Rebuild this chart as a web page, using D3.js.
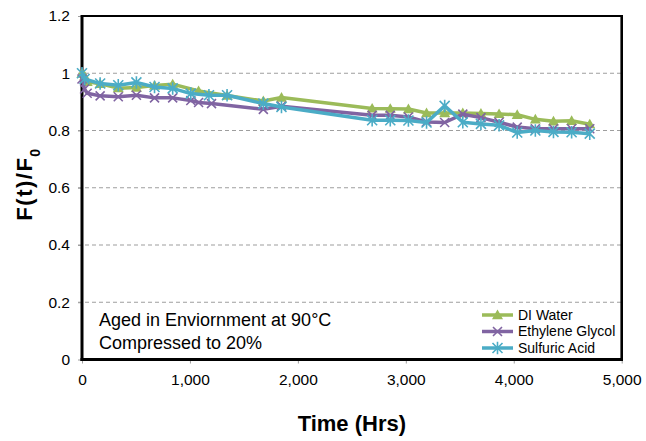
<!DOCTYPE html>
<html>
<head>
<meta charset="utf-8">
<script src="https://cdn.jsdelivr.net/npm/d3@7/dist/d3.min.js"></script>
<style>
  html, body { margin: 0; padding: 0; background: #fff; }
  svg { display: block; font-family: "Liberation Sans", Arial, sans-serif; }
</style>
</head>
<body>
<svg id="chart" width="646" height="441"></svg>
<script>
// ---- Data ----
const seriesNames = ["DI Water", "Ethylene Glycol", "Sulfuric Acid"];

const hoursDI = [0, 24, 48, 168, 336, 504, 672, 840, 1080, 1344, 1680, 1848,
  2688, 2856, 3024, 3192, 3360, 3528, 3696, 3864, 4032, 4200, 4368, 4536, 4704];
const valuesDI = [1.0, 0.99, 0.97, 0.963, 0.948, 0.95, 0.957, 0.962, 0.938, 0.922, 0.903, 0.915,
  0.877, 0.876, 0.875, 0.861, 0.861, 0.861, 0.859, 0.858, 0.855, 0.839, 0.832, 0.834, 0.822];

const hoursEG = [0, 24, 48, 168, 336, 504, 672, 840, 1008, 1080, 1200, 1680, 1848,
  2688, 2856, 3024, 3192, 3360, 3528, 3696, 3864, 4032, 4200, 4368, 4536, 4704];
const valuesEG = [0.98, 0.945, 0.93, 0.921, 0.918, 0.923, 0.914, 0.914, 0.905, 0.898, 0.894, 0.874, 0.885,
  0.853, 0.853, 0.847, 0.83, 0.828, 0.857, 0.845, 0.829, 0.812, 0.806, 0.806, 0.806, 0.806];

const hoursSA = [0, 24, 168, 336, 504, 672, 840, 1008, 1176, 1344, 1680, 1848,
  2688, 2856, 3024, 3192, 3360, 3528, 3696, 3864, 4032, 4200, 4368, 4536, 4704];
const valuesSA = [1.0, 0.98, 0.964, 0.958, 0.968, 0.952, 0.947, 0.929, 0.923, 0.923, 0.894, 0.882,
  0.836, 0.836, 0.835, 0.828, 0.886, 0.829, 0.823, 0.818, 0.793, 0.8, 0.795, 0.794, 0.789];

const xTicks = [0, 1000, 2000, 3000, 4000, 5000];
const yTicks = [0, 0.2, 0.4, 0.6, 0.8, 1.0, 1.2];

const colors = ["#9BBB59", "#8064A2", "#4BACC6"];
const markers = ["triangle", "cross", "asterisk"];

// ---- Layout ----
const svg = d3.select("#chart");
const W = 646, H = 441;
const margin = { left: 82, top: 16, right: 24.3, bottom: 81.5 };
const iw = W - margin.left - margin.right;
const ih = H - margin.top - margin.bottom;

const x = d3.scaleLinear().domain([0, 5000]).range([margin.left, margin.left + iw]);
const y = d3.scaleLinear().domain([0, 1.2]).range([margin.top + ih, margin.top]);

// gridlines
svg.append("g")
  .selectAll("line")
  .data(yTicks.filter(t => t > 0 && t < 1.2))
  .join("line")
  .attr("x1", x(0) - 4).attr("x2", x(5000))
  .attr("y1", d => y(d)).attr("y2", d => y(d))
  .attr("stroke", "#9e9e9e").attr("stroke-width", 1.2)
  .attr("stroke-dasharray", "4,3");

// axes
const xAxis = d3.axisBottom(x).tickValues(xTicks).tickSize(4).tickPadding(10)
  .tickFormat(d3.format(","));
const yAxis = d3.axisLeft(y).tickValues(yTicks).tickSize(4).tickPadding(8)
  .tickFormat(d => d === 0 ? "0" : d3.format("")(+d.toFixed(1)));

const gx = svg.append("g").attr("transform", `translate(0,${y(0)})`).call(xAxis);
const gy = svg.append("g").attr("transform", `translate(${x(0)},0)`).call(yAxis);
[gx, gy].forEach(g => {
  g.select(".domain").remove();
  g.selectAll(".tick line").attr("stroke", "#9e9e9e").attr("stroke-width", 1);
  g.selectAll(".tick text").attr("fill", "#000").style("font-size", "15.5px")
    .style("font-family", "'Liberation Sans', Arial, sans-serif");
});

// frame
svg.append("line").attr("x1", x(0)).attr("x2", x(5000)).attr("y1", y(1.2)).attr("y2", y(1.2))
  .attr("stroke", "#000").attr("stroke-width", 2);
svg.append("line").attr("x1", x(5000)).attr("x2", x(5000)).attr("y1", y(1.2) - 1).attr("y2", y(0) + 1.5)
  .attr("stroke", "#000").attr("stroke-width", 2.6);
svg.append("line").attr("x1", x(0) - 1.5).attr("x2", x(5000) + 1.3).attr("y1", y(0)).attr("y2", y(0))
  .attr("stroke", "#000").attr("stroke-width", 3);
svg.append("line").attr("x1", x(0)).attr("x2", x(0)).attr("y1", y(1.2) - 1).attr("y2", y(0) + 1.5)
  .attr("stroke", "#000").attr("stroke-width", 3);

// markers
function drawMarker(g, type, cx, cy, color) {
  if (type === "triangle") {
    const s = 5.5;
    g.append("path")
      .attr("d", `M${cx},${cy - s} L${cx + s},${cy + s * 0.75} L${cx - s},${cy + s * 0.75} Z`)
      .attr("fill", color);
  } else if (type === "cross") {
    const s = 4.5;
    g.append("path")
      .attr("d", `M${cx - s},${cy - s} L${cx + s},${cy + s} M${cx - s},${cy + s} L${cx + s},${cy - s}`)
      .attr("stroke", color).attr("stroke-width", 1.6).attr("fill", "none");
  } else {
    const s = 5;
    g.append("path")
      .attr("d", `M${cx - s},${cy - s} L${cx + s},${cy + s} M${cx - s},${cy + s} L${cx + s},${cy - s} M${cx},${cy - s * 1.25} L${cx},${cy + s * 1.25}`)
      .attr("stroke", color).attr("stroke-width", 1.6).attr("fill", "none");
  }
}

const seriesData = [
  { name: seriesNames[0], hours: hoursDI, values: valuesDI },
  { name: seriesNames[1], hours: hoursEG, values: valuesEG },
  { name: seriesNames[2], hours: hoursSA, values: valuesSA }
];

const line = d3.line().x(d => x(d[0])).y(d => y(d[1]));

seriesData.forEach((s, i) => {
  const pts = s.hours.map((h, j) => [h, s.values[j]]);
  const g = svg.append("g");
  g.append("path").datum(pts).attr("d", line)
    .attr("fill", "none").attr("stroke", colors[i]).attr("stroke-width", 3.5)
    .attr("stroke-linejoin", "round");
  pts.forEach(p => drawMarker(g, markers[i], x(p[0]), y(p[1]), colors[i]));
});

// legend
const legend = svg.append("g");
seriesNames.forEach((n, i) => {
  const ly = 315 + i * 16.5;
  legend.append("line").attr("x1", 482).attr("x2", 513).attr("y1", ly).attr("y2", ly)
    .attr("stroke", colors[i]).attr("stroke-width", 3.5);
  drawMarker(legend, markers[i], 497.5, ly, colors[i]);
  legend.append("text").attr("x", 518).attr("y", ly).attr("dy", "0.35em")
    .style("font-size", "14px").attr("fill", "#000").text(n);
});

// annotation
svg.append("text").attr("x", 99).attr("y", 326).style("font-size", "18px").attr("fill", "#000")
  .text("Aged in Enviornment at 90°C");
svg.append("text").attr("x", 99).attr("y", 349).style("font-size", "18px").attr("fill", "#000")
  .text("Compressed to 20%");

// axis titles
svg.append("text").attr("x", (x(0) + x(5000)) / 2).attr("y", 431)
  .attr("text-anchor", "middle").style("font-size", "22px").style("font-weight", "bold")
  .attr("fill", "#000").text("Time (Hrs)");

const yt = svg.append("text")
  .attr("transform", `translate(32,${184}) rotate(-90)`)
  .attr("text-anchor", "middle").style("font-size", "22px").style("font-weight", "bold")
  .style("letter-spacing", "1.5px").attr("fill", "#000");
yt.append("tspan").text("F(t)/F");
yt.append("tspan").attr("baseline-shift", "sub").style("font-size", "14px").text("0");
</script>
</body>
</html>
